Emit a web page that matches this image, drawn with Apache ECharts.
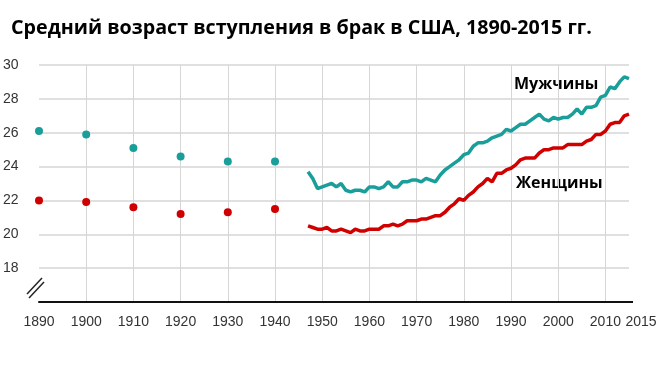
<!DOCTYPE html>
<html><head><meta charset="utf-8">
<script src="https://cdn.jsdelivr.net/npm/echarts@6/dist/echarts.min.js"></script>
<style>html,body{margin:0;padding:0;background:#fff}#c{width:660px;height:365px}</style>
</head><body><div id="c"></div>
<script>
var titleText = 'Средний возраст вступления в брак в США, 1890-2015 гг.';
var censusYears = [1890, 1900, 1910, 1920, 1930, 1940];
var censusMen   = [26.1, 25.9, 25.1, 24.6, 24.3, 24.3];
var censusWomen = [22.0, 21.9, 21.6, 21.2, 21.3, 21.5];
var annualStart = 1947;
var annualMen = [23.7, 23.3, 22.7, 22.8, 22.9, 23.0, 22.8, 23.0, 22.6, 22.5,
                 22.6, 22.6, 22.5, 22.8, 22.8, 22.7, 22.8, 23.1, 22.8, 22.8,
                 23.1, 23.1, 23.2, 23.2, 23.1, 23.3, 23.2, 23.1, 23.5, 23.8,
                 24.0, 24.2, 24.4, 24.7, 24.8, 25.2, 25.4, 25.4, 25.5, 25.7,
                 25.8, 25.9, 26.2, 26.1, 26.3, 26.5, 26.5, 26.7, 26.9, 27.1,
                 26.8, 26.7, 26.9, 26.8, 26.9, 26.9, 27.1, 27.4, 27.1, 27.5,
                 27.5, 27.6, 28.1, 28.2, 28.7, 28.6, 29.0, 29.3, 29.2];
var annualWomen = [20.5, 20.4, 20.3, 20.3, 20.4, 20.2, 20.2, 20.3, 20.2, 20.1,
                   20.3, 20.2, 20.2, 20.3, 20.3, 20.3, 20.5, 20.5, 20.6, 20.5,
                   20.6, 20.8, 20.8, 20.8, 20.9, 20.9, 21.0, 21.1, 21.1, 21.3,
                   21.6, 21.8, 22.1, 22.0, 22.3, 22.5, 22.8, 23.0, 23.3, 23.1,
                   23.6, 23.6, 23.8, 23.9, 24.1, 24.4, 24.5, 24.5, 24.5, 24.8,
                   25.0, 25.0, 25.1, 25.1, 25.1, 25.3, 25.3, 25.3, 25.3, 25.5,
                   25.6, 25.9, 25.9, 26.1, 26.5, 26.6, 26.6, 27.0, 27.1];
var xTickLabels = [1890, 1900, 1910, 1920, 1930, 1940, 1950, 1960, 1970, 1980, 1990, 2000, 2010, 2015];
var yTickLabels = [18, 20, 22, 24, 26, 28, 30];
var menLabel = 'Мужчины';
var womenLabel = 'Женщины';

var MEN = '#1a9e9a', WOMEN = '#d10000';
function pairs(xs, ys){ return ys.map(function(v,i){ return [xs[i], v]; }); }
function annual(vals){ return vals.map(function(v,i){ return [annualStart + i, v]; }); }

var chart = echarts.init(document.getElementById('c'), null, {renderer:'canvas'});
chart.setOption({
  animation: false,
  backgroundColor: '#fff',
  title: {
    text: titleText, left: 6, top: 13,
    textStyle: {fontFamily: 'Open Sans', fontWeight: 'bold', fontSize: 19.7, color: '#000'}
  },
  grid: {left: 39, right: 31, top: 65, bottom: 63, containLabel: false},
  xAxis: {
    type: 'value', min: 1890, max: 2015, interval: 10,
    axisLine: {show: true, onZero: false, lineStyle: {color: '#111', width: 2}},
    axisTick: {show: false},
    axisLabel: {
      customValues: xTickLabels, showMaxLabel: true, hideOverlap: false,
      color: '#333', fontFamily: 'Liberation Sans', fontSize: 14, margin: 13,
      formatter: function(v){ return v === 2015 ? '{r|2015}' : String(v); },
      rich: {r: {color: '#333', fontFamily: 'Liberation Sans', fontSize: 14, padding: [0, 0, 0, 24]}}
    },
    splitLine: {show: true, showMinLine: false, showMaxLine: false, lineStyle: {color: '#d6d6d6', width: 1}}
  },
  yAxis: {
    type: 'value', min: 16, max: 30, interval: 2,
    axisLine: {show: false}, axisTick: {show: false},
    axisLabel: {
      color: '#333', fontFamily: 'Liberation Sans', fontSize: 14, align: 'left', margin: 36,
      formatter: function(v){ return yTickLabels.indexOf(v) >= 0 ? String(v) : ''; }
    },
    splitLine: {show: true, showMinLine: false, lineStyle: {color: '#d6d6d6', width: 1.5}}
  },
  graphic: [
    {type: 'line', shape: {x1: 27, y1: 294, x2: 42, y2: 278}, style: {stroke: '#222', lineWidth: 1.5}},
    {type: 'line', shape: {x1: 29, y1: 298, x2: 44, y2: 282}, style: {stroke: '#222', lineWidth: 1.5}},
    {type: 'line', shape: {x1: 629, y1: 302, x2: 633, y2: 302}, style: {stroke: '#111', lineWidth: 2}},
    {type: 'text', left: 514, top: 76, style: {text: menLabel, font: 'bold 16px "Open Sans"', fill: '#000'}},
    {type: 'text', left: 516, top: 175, style: {text: womenLabel, font: 'bold 16px "Open Sans"', fill: '#000'}}
  ],
  series: [
    {type: 'scatter', data: pairs(censusYears, censusMen), symbolSize: 8, itemStyle: {color: MEN, opacity: 1}},
    {type: 'scatter', data: pairs(censusYears, censusWomen), symbolSize: 8, itemStyle: {color: WOMEN, opacity: 1}},
    {type: 'line', data: annual(annualMen), showSymbol: false, lineStyle: {color: MEN, width: 3.5}, itemStyle: {color: MEN}},
    {type: 'line', data: annual(annualWomen), showSymbol: false, lineStyle: {color: WOMEN, width: 3.5}, itemStyle: {color: WOMEN}}
  ]
});
</script></body></html>
